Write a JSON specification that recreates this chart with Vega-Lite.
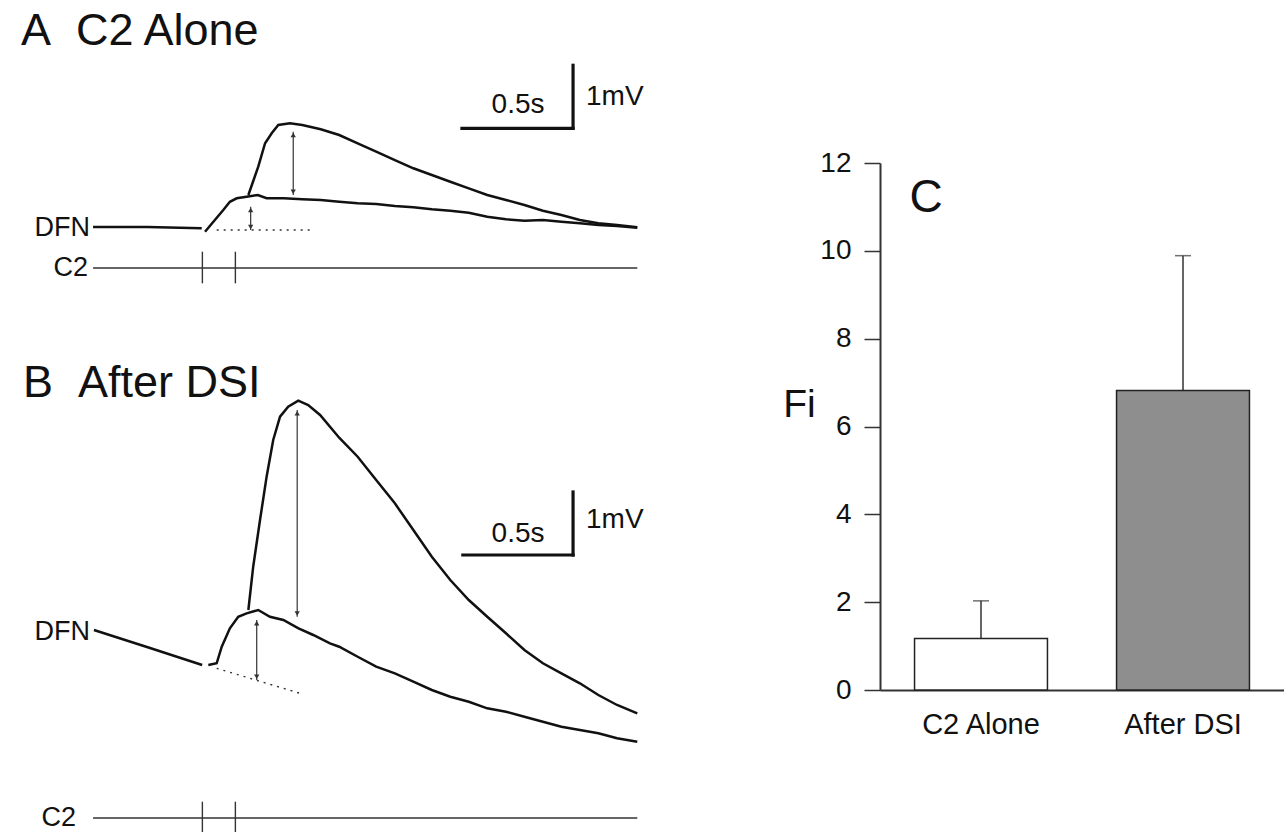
{
  "$schema": "https://vega.github.io/schema/vega-lite/v6.json",
  "padding": 0,
  "background": "#ffffff",
  "config": {
    "view": {"stroke": null},
    "font": "Liberation Sans",
    "text": {"font": "Liberation Sans", "color": "#111111"}
  },
  "datasets": {
    "traces": [
      {"panel": "A", "trace": "pre", "t": -0.497, "v": 0},
      {"panel": "A", "trace": "pre", "t": -0.25, "v": 0},
      {"panel": "A", "trace": "pre", "t": -0.003, "v": -0.02},
      {"panel": "A", "trace": "small", "t": 0.012, "v": -0.075},
      {"panel": "A", "trace": "small", "t": 0.05, "v": 0.084},
      {"panel": "A", "trace": "small", "t": 0.095, "v": 0.27},
      {"panel": "A", "trace": "small", "t": 0.125, "v": 0.4},
      {"panel": "A", "trace": "small", "t": 0.156, "v": 0.456},
      {"panel": "A", "trace": "small", "t": 0.201, "v": 0.481},
      {"panel": "A", "trace": "small", "t": 0.252, "v": 0.508},
      {"panel": "A", "trace": "small", "t": 0.292, "v": 0.456},
      {"panel": "A", "trace": "small", "t": 0.37, "v": 0.456},
      {"panel": "A", "trace": "small", "t": 0.454, "v": 0.44},
      {"panel": "A", "trace": "small", "t": 0.538, "v": 0.429},
      {"panel": "A", "trace": "small", "t": 0.622, "v": 0.402},
      {"panel": "A", "trace": "small", "t": 0.706, "v": 0.376},
      {"panel": "A", "trace": "small", "t": 0.79, "v": 0.365},
      {"panel": "A", "trace": "small", "t": 0.875, "v": 0.333},
      {"panel": "A", "trace": "small", "t": 0.959, "v": 0.313},
      {"panel": "A", "trace": "small", "t": 1.043, "v": 0.281},
      {"panel": "A", "trace": "small", "t": 1.127, "v": 0.259},
      {"panel": "A", "trace": "small", "t": 1.211, "v": 0.227},
      {"panel": "A", "trace": "small", "t": 1.295, "v": 0.163},
      {"panel": "A", "trace": "small", "t": 1.38, "v": 0.122},
      {"panel": "A", "trace": "small", "t": 1.464, "v": 0.1},
      {"panel": "A", "trace": "small", "t": 1.548, "v": 0.111},
      {"panel": "A", "trace": "small", "t": 1.632, "v": 0.084},
      {"panel": "A", "trace": "small", "t": 1.716, "v": 0.059},
      {"panel": "A", "trace": "small", "t": 1.8, "v": 0.032},
      {"panel": "A", "trace": "small", "t": 1.885, "v": 0.016},
      {"panel": "A", "trace": "small", "t": 1.977, "v": -0.011},
      {"panel": "A", "trace": "large", "t": 0.209, "v": 0.508},
      {"panel": "A", "trace": "large", "t": 0.254, "v": 0.957},
      {"panel": "A", "trace": "large", "t": 0.285, "v": 1.329},
      {"panel": "A", "trace": "large", "t": 0.315, "v": 1.487},
      {"panel": "A", "trace": "large", "t": 0.345, "v": 1.619},
      {"panel": "A", "trace": "large", "t": 0.398, "v": 1.646},
      {"panel": "A", "trace": "large", "t": 0.454, "v": 1.619},
      {"panel": "A", "trace": "large", "t": 0.538, "v": 1.551},
      {"panel": "A", "trace": "large", "t": 0.622, "v": 1.46},
      {"panel": "A", "trace": "large", "t": 0.706, "v": 1.329},
      {"panel": "A", "trace": "large", "t": 0.79, "v": 1.195},
      {"panel": "A", "trace": "large", "t": 0.875, "v": 1.063},
      {"panel": "A", "trace": "large", "t": 0.959, "v": 0.932},
      {"panel": "A", "trace": "large", "t": 1.043, "v": 0.825},
      {"panel": "A", "trace": "large", "t": 1.127, "v": 0.719},
      {"panel": "A", "trace": "large", "t": 1.211, "v": 0.614},
      {"panel": "A", "trace": "large", "t": 1.295, "v": 0.508},
      {"panel": "A", "trace": "large", "t": 1.38, "v": 0.429},
      {"panel": "A", "trace": "large", "t": 1.464, "v": 0.349},
      {"panel": "A", "trace": "large", "t": 1.548, "v": 0.259},
      {"panel": "A", "trace": "large", "t": 1.632, "v": 0.19},
      {"panel": "A", "trace": "large", "t": 1.716, "v": 0.111},
      {"panel": "A", "trace": "large", "t": 1.8, "v": 0.059},
      {"panel": "A", "trace": "large", "t": 1.885, "v": 0.032},
      {"panel": "A", "trace": "large", "t": 1.977, "v": -0.005},
      {"panel": "B", "trace": "pre", "t": -0.493, "v": 0.603},
      {"panel": "B", "trace": "pre", "t": -0.238, "v": 0.317},
      {"panel": "B", "trace": "pre", "t": -0.001, "v": 0.048},
      {"panel": "B", "trace": "small", "t": 0.027, "v": 0.048},
      {"panel": "B", "trace": "small", "t": 0.065, "v": 0.075},
      {"panel": "B", "trace": "small", "t": 0.088, "v": 0.338},
      {"panel": "B", "trace": "small", "t": 0.125, "v": 0.63},
      {"panel": "B", "trace": "small", "t": 0.163, "v": 0.814},
      {"panel": "B", "trace": "small", "t": 0.201, "v": 0.868},
      {"panel": "B", "trace": "small", "t": 0.254, "v": 0.921},
      {"panel": "B", "trace": "small", "t": 0.307, "v": 0.814},
      {"panel": "B", "trace": "small", "t": 0.368, "v": 0.762},
      {"panel": "B", "trace": "small", "t": 0.437, "v": 0.63},
      {"panel": "B", "trace": "small", "t": 0.504, "v": 0.524},
      {"panel": "B", "trace": "small", "t": 0.58, "v": 0.392},
      {"panel": "B", "trace": "small", "t": 0.622, "v": 0.338},
      {"panel": "B", "trace": "small", "t": 0.706, "v": 0.179},
      {"panel": "B", "trace": "small", "t": 0.79, "v": 0.021},
      {"panel": "B", "trace": "small", "t": 0.875, "v": -0.084},
      {"panel": "B", "trace": "small", "t": 0.959, "v": -0.217},
      {"panel": "B", "trace": "small", "t": 1.043, "v": -0.349},
      {"panel": "B", "trace": "small", "t": 1.127, "v": -0.456},
      {"panel": "B", "trace": "small", "t": 1.211, "v": -0.535},
      {"panel": "B", "trace": "small", "t": 1.295, "v": -0.64},
      {"panel": "B", "trace": "small", "t": 1.38, "v": -0.694},
      {"panel": "B", "trace": "small", "t": 1.464, "v": -0.773},
      {"panel": "B", "trace": "small", "t": 1.548, "v": -0.852},
      {"panel": "B", "trace": "small", "t": 1.632, "v": -0.932},
      {"panel": "B", "trace": "small", "t": 1.716, "v": -0.984},
      {"panel": "B", "trace": "small", "t": 1.8, "v": -1.037},
      {"panel": "B", "trace": "small", "t": 1.885, "v": -1.116},
      {"panel": "B", "trace": "small", "t": 1.977, "v": -1.17},
      {"panel": "B", "trace": "large", "t": 0.209, "v": 0.921},
      {"panel": "B", "trace": "large", "t": 0.231, "v": 1.608},
      {"panel": "B", "trace": "large", "t": 0.262, "v": 2.349},
      {"panel": "B", "trace": "large", "t": 0.292, "v": 3.037},
      {"panel": "B", "trace": "large", "t": 0.322, "v": 3.619},
      {"panel": "B", "trace": "large", "t": 0.353, "v": 3.989},
      {"panel": "B", "trace": "large", "t": 0.39, "v": 4.148},
      {"panel": "B", "trace": "large", "t": 0.436, "v": 4.243},
      {"panel": "B", "trace": "large", "t": 0.481, "v": 4.175},
      {"panel": "B", "trace": "large", "t": 0.535, "v": 4.016},
      {"panel": "B", "trace": "large", "t": 0.623, "v": 3.651},
      {"panel": "B", "trace": "large", "t": 0.706, "v": 3.354},
      {"panel": "B", "trace": "large", "t": 0.79, "v": 2.984},
      {"panel": "B", "trace": "large", "t": 0.875, "v": 2.614},
      {"panel": "B", "trace": "large", "t": 0.959, "v": 2.19},
      {"panel": "B", "trace": "large", "t": 1.043, "v": 1.767},
      {"panel": "B", "trace": "large", "t": 1.127, "v": 1.397},
      {"panel": "B", "trace": "large", "t": 1.211, "v": 1.079},
      {"panel": "B", "trace": "large", "t": 1.295, "v": 0.814},
      {"panel": "B", "trace": "large", "t": 1.38, "v": 0.551},
      {"panel": "B", "trace": "large", "t": 1.464, "v": 0.286},
      {"panel": "B", "trace": "large", "t": 1.548, "v": 0.075},
      {"panel": "B", "trace": "large", "t": 1.632, "v": -0.084},
      {"panel": "B", "trace": "large", "t": 1.716, "v": -0.243},
      {"panel": "B", "trace": "large", "t": 1.8, "v": -0.429},
      {"panel": "B", "trace": "large", "t": 1.885, "v": -0.587},
      {"panel": "B", "trace": "large", "t": 1.977, "v": -0.719}
    ],
    "segments": [
      {"panel": "A", "kind": "stim", "t": -0.497, "t2": 1.977, "v": -0.651, "v2": -0.651},
      {"panel": "A", "kind": "stim", "t": 0, "t2": 0, "v": -0.392, "v2": -0.894},
      {"panel": "A", "kind": "stim", "t": 0.15, "t2": 0.15, "v": -0.392, "v2": -0.894},
      {"panel": "A", "kind": "scale", "t": 1.18, "t2": 1.685, "v": 1.567, "v2": 1.567},
      {"panel": "A", "kind": "scale", "t": 1.685, "t2": 1.685, "v": 1.567, "v2": 2.567},
      {"panel": "A", "kind": "baseline", "t": 0.065, "t2": 0.497, "v": -0.048, "v2": -0.048},
      {"panel": "A", "kind": "arrow", "t": 0.413, "t2": 0.413, "v": 0.508, "v2": 1.513},
      {"panel": "A", "kind": "arrow", "t": 0.2195, "t2": 0.2195, "v": -0.048, "v2": 0.322},
      {"panel": "B", "kind": "stim", "t": -0.497, "t2": 1.977, "v": -2.381, "v2": -2.381},
      {"panel": "B", "kind": "stim", "t": 0, "t2": 0, "v": -2.122, "v2": -2.62},
      {"panel": "B", "kind": "stim", "t": 0.15, "t2": 0.15, "v": -2.122, "v2": -2.62},
      {"panel": "B", "kind": "scale", "t": 1.184, "t2": 1.685, "v": 1.794, "v2": 1.794},
      {"panel": "B", "kind": "scale", "t": 1.685, "t2": 1.685, "v": 1.794, "v2": 2.794},
      {"panel": "B", "kind": "baseline", "t": 0.065, "t2": 0.444, "v": -0.005, "v2": -0.402},
      {"panel": "B", "kind": "arrow", "t": 0.431, "t2": 0.431, "v": 0.814, "v2": 4.095},
      {"panel": "B", "kind": "arrow", "t": 0.247, "t2": 0.247, "v": -0.19, "v2": 0.762}
    ],
    "heads": [
      {"panel": "A", "dir": "up", "t": 0.413, "v": 1.46},
      {"panel": "A", "dir": "down", "t": 0.413, "v": 0.56},
      {"panel": "A", "dir": "up", "t": 0.2195, "v": 0.27},
      {"panel": "A", "dir": "down", "t": 0.2195, "v": 0.0},
      {"panel": "B", "dir": "up", "t": 0.431, "v": 4.045},
      {"panel": "B", "dir": "down", "t": 0.431, "v": 0.864},
      {"panel": "B", "dir": "up", "t": 0.247, "v": 0.712},
      {"panel": "B", "dir": "down", "t": 0.247, "v": -0.14}
    ],
    "labels": [
      {"panel": "A", "kind": "title", "text": "A", "t": -0.8245, "v": 2.889},
      {"panel": "A", "kind": "title", "text": "C2 Alone", "t": -0.5745, "v": 2.889},
      {"panel": "A", "kind": "label", "text": "DFN", "t": -0.511, "v": -0.016},
      {"panel": "A", "kind": "label", "text": "C2", "t": -0.52, "v": -0.651},
      {"panel": "A", "kind": "scalex", "text": "0.5s", "t": 1.435, "v": 1.929},
      {"panel": "A", "kind": "scaley", "text": "1mV", "t": 1.744, "v": 2.063},
      {"panel": "B", "kind": "title", "text": "B", "t": -0.8155, "v": 4.302},
      {"panel": "B", "kind": "title", "text": "After DSI", "t": -0.5655, "v": 4.302},
      {"panel": "B", "kind": "label", "text": "DFN", "t": -0.511, "v": 0.571},
      {"panel": "B", "kind": "label", "text": "C2", "t": -0.575, "v": -2.381},
      {"panel": "B", "kind": "scalex", "text": "0.5s", "t": 1.435, "v": 2.127},
      {"panel": "B", "kind": "scaley", "text": "1mV", "t": 1.744, "v": 2.349}
    ],
    "bars": [
      {"cond": "C2 Alone", "fi": 1.17, "upper": 2.03, "panel": "C"},
      {"cond": "After DSI", "fi": 6.82, "upper": 9.89, "panel": "C"}
    ]
  },
  "hconcat": [
    {
      "spacing": 0,
      "bounds": "flush",
      "vconcat": [
        {
          "width": 654,
          "height": 289,
          "encoding": {
            "x": {"field": "t", "type": "quantitative", "scale": {"domain": [-0.92, 2.053], "nice": false, "zero": false}, "axis": null},
            "y": {"field": "v", "type": "quantitative", "scale": {"domain": [-0.984, 3.603], "nice": false, "zero": false}, "axis": null}
          },
          "layer": [
            {"data": {"name": "segments"}, "transform": [{"filter": "datum.panel === 'A' && datum.kind === 'stim'"}], "mark": {"type": "rule", "color": "#333333", "strokeWidth": 1.4}, "encoding": {"x2": {"field": "t2"}, "y2": {"field": "v2"}}},
            {"data": {"name": "segments"}, "transform": [{"filter": "datum.panel === 'A' && datum.kind === 'scale'"}], "mark": {"type": "rule", "color": "#111111", "strokeWidth": 3.2, "strokeCap": "square"}, "encoding": {"x2": {"field": "t2"}, "y2": {"field": "v2"}}},
            {"data": {"name": "segments"}, "transform": [{"filter": "datum.panel === 'A' && datum.kind === 'baseline'"}], "mark": {"type": "rule", "color": "#333333", "strokeWidth": 1.4, "strokeDash": [2, 5]}, "encoding": {"x2": {"field": "t2"}, "y2": {"field": "v2"}}},
            {"data": {"name": "segments"}, "transform": [{"filter": "datum.panel === 'A' && datum.kind === 'arrow'"}], "mark": {"type": "rule", "color": "#333333", "strokeWidth": 1.2}, "encoding": {"x2": {"field": "t2"}, "y2": {"field": "v2"}}},
            {"data": {"name": "heads"}, "transform": [{"filter": "datum.panel === 'A' && datum.dir === 'up'"}], "mark": {"type": "point", "shape": "triangle-up", "filled": true, "size": 28, "color": "#333333", "opacity": 1}},
            {"data": {"name": "heads"}, "transform": [{"filter": "datum.panel === 'A' && datum.dir === 'down'"}], "mark": {"type": "point", "shape": "triangle-down", "filled": true, "size": 28, "color": "#333333", "opacity": 1}},
            {"data": {"name": "traces"}, "transform": [{"filter": "datum.panel === 'A'"}], "mark": {"type": "line", "color": "#111111", "strokeWidth": 2.5}, "encoding": {"detail": {"field": "trace", "type": "nominal"}}},
            {"data": {"name": "labels"}, "transform": [{"filter": "datum.panel === 'A' && datum.kind === 'title'"}], "mark": {"type": "text", "fontSize": 45, "align": "left", "baseline": "alphabetic"}, "encoding": {"text": {"field": "text"}}},
            {"data": {"name": "labels"}, "transform": [{"filter": "datum.panel === 'A' && datum.kind === 'label'"}], "mark": {"type": "text", "fontSize": 27, "align": "right", "baseline": "middle"}, "encoding": {"text": {"field": "text"}}},
            {"data": {"name": "labels"}, "transform": [{"filter": "datum.panel === 'A' && datum.kind === 'scalex'"}], "mark": {"type": "text", "fontSize": 28, "align": "center", "baseline": "middle"}, "encoding": {"text": {"field": "text"}}},
            {"data": {"name": "labels"}, "transform": [{"filter": "datum.panel === 'A' && datum.kind === 'scaley'"}], "mark": {"type": "text", "fontSize": 28, "align": "left", "baseline": "middle"}, "encoding": {"text": {"field": "text"}}}
          ]
        },
        {
          "width": 654,
          "height": 543,
          "encoding": {
            "x": {"field": "t", "type": "quantitative", "scale": {"domain": [-0.92, 2.053], "nice": false, "zero": false}, "axis": null},
            "y": {"field": "v", "type": "quantitative", "scale": {"domain": [-2.603, 6.016], "nice": false, "zero": false}, "axis": null}
          },
          "layer": [
            {"data": {"name": "segments"}, "transform": [{"filter": "datum.panel === 'B' && datum.kind === 'stim'"}], "mark": {"type": "rule", "color": "#333333", "strokeWidth": 1.4}, "encoding": {"x2": {"field": "t2"}, "y2": {"field": "v2"}}},
            {"data": {"name": "segments"}, "transform": [{"filter": "datum.panel === 'B' && datum.kind === 'scale'"}], "mark": {"type": "rule", "color": "#111111", "strokeWidth": 3.2, "strokeCap": "square"}, "encoding": {"x2": {"field": "t2"}, "y2": {"field": "v2"}}},
            {"data": {"name": "segments"}, "transform": [{"filter": "datum.panel === 'B' && datum.kind === 'baseline'"}], "mark": {"type": "rule", "color": "#333333", "strokeWidth": 1.4, "strokeDash": [2, 5]}, "encoding": {"x2": {"field": "t2"}, "y2": {"field": "v2"}}},
            {"data": {"name": "segments"}, "transform": [{"filter": "datum.panel === 'B' && datum.kind === 'arrow'"}], "mark": {"type": "rule", "color": "#333333", "strokeWidth": 1.2}, "encoding": {"x2": {"field": "t2"}, "y2": {"field": "v2"}}},
            {"data": {"name": "heads"}, "transform": [{"filter": "datum.panel === 'B' && datum.dir === 'up'"}], "mark": {"type": "point", "shape": "triangle-up", "filled": true, "size": 28, "color": "#333333", "opacity": 1}},
            {"data": {"name": "heads"}, "transform": [{"filter": "datum.panel === 'B' && datum.dir === 'down'"}], "mark": {"type": "point", "shape": "triangle-down", "filled": true, "size": 28, "color": "#333333", "opacity": 1}},
            {"data": {"name": "traces"}, "transform": [{"filter": "datum.panel === 'B'"}], "mark": {"type": "line", "color": "#111111", "strokeWidth": 2.5}, "encoding": {"detail": {"field": "trace", "type": "nominal"}}},
            {"data": {"name": "labels"}, "transform": [{"filter": "datum.panel === 'B' && datum.kind === 'title'"}], "mark": {"type": "text", "fontSize": 45, "align": "left", "baseline": "alphabetic"}, "encoding": {"text": {"field": "text"}}},
            {"data": {"name": "labels"}, "transform": [{"filter": "datum.panel === 'B' && datum.kind === 'label'"}], "mark": {"type": "text", "fontSize": 27, "align": "right", "baseline": "middle"}, "encoding": {"text": {"field": "text"}}},
            {"data": {"name": "labels"}, "transform": [{"filter": "datum.panel === 'B' && datum.kind === 'scalex'"}], "mark": {"type": "text", "fontSize": 28, "align": "center", "baseline": "middle"}, "encoding": {"text": {"field": "text"}}},
            {"data": {"name": "labels"}, "transform": [{"filter": "datum.panel === 'B' && datum.kind === 'scaley'"}], "mark": {"type": "text", "fontSize": 28, "align": "left", "baseline": "middle"}, "encoding": {"text": {"field": "text"}}}
          ]
        }
      ]
    },
    {
      "spacing": 0,
      "bounds": "flush",
      "vconcat": [
        {
          "width": 404,
          "height": 163,
          "data": {"values": []},
          "mark": {"type": "text", "text": ""}
        },
        {
          "width": 404,
          "height": 527,
          "data": {"name": "bars"},
          "encoding": {
            "x": {
              "field": "cond", "type": "nominal", "sort": ["C2 Alone", "After DSI"],
              "scale": {"paddingInner": 0.342, "paddingOuter": 0.171},
              "axis": {"title": null, "labelAngle": 0, "labelFontSize": 29, "labelColor": "#111111", "labelFont": "Liberation Sans", "ticks": false, "tickSize": 0, "labelPadding": 20, "domainColor": "#333333", "domainWidth": 2, "labelBaseline": "top"}
            },
            "y": {
              "field": "fi", "type": "quantitative", "title": "Fi",
              "scale": {"domain": [0, 12], "nice": false, "zero": true},
              "axis": {"values": [0, 2, 4, 6, 8, 10, 12], "grid": false, "tickSize": 16, "tickWidth": 1.5, "tickColor": "#333333", "domainColor": "#333333", "domainWidth": 2, "labelFontSize": 28, "labelPadding": 13, "labelColor": "#111111", "labelFont": "Liberation Sans", "titleAngle": 0, "titleFontSize": 39, "titleFontWeight": "normal", "titleFont": "Liberation Sans", "titleColor": "#111111", "titleX": -81, "titleY": 241, "titleAlign": "center", "titleBaseline": "middle"}
            }
          },
          "layer": [
            {"mark": {"type": "rule", "color": "#333333", "strokeWidth": 1.5}, "encoding": {"y2": {"field": "upper"}}},
            {"mark": {"type": "tick", "color": "#333333", "thickness": 1.5, "size": 16}, "encoding": {"y": {"field": "upper", "type": "quantitative", "title": "Fi"}}},
            {
              "mark": {"type": "bar", "stroke": "#222222", "strokeWidth": 1.5},
              "encoding": {"fill": {"field": "cond", "type": "nominal", "scale": {"domain": ["C2 Alone", "After DSI"], "range": ["#ffffff", "#8e8e8e"]}, "legend": null}}
            },
            {
              "transform": [{"filter": "datum.cond === 'C2 Alone'"}],
              "mark": {"type": "text", "fontSize": 46, "align": "left", "baseline": "alphabetic", "dx": -5, "fill": "#111111"},
              "encoding": {
                "x": {"field": "cond", "type": "nominal", "bandPosition": 0},
                "y": {"datum": 10.88},
                "text": {"field": "panel", "type": "nominal"}
              }
            }
          ]
        }
      ]
    }
  ],
  "spacing": 128,
  "bounds": "full"
}
